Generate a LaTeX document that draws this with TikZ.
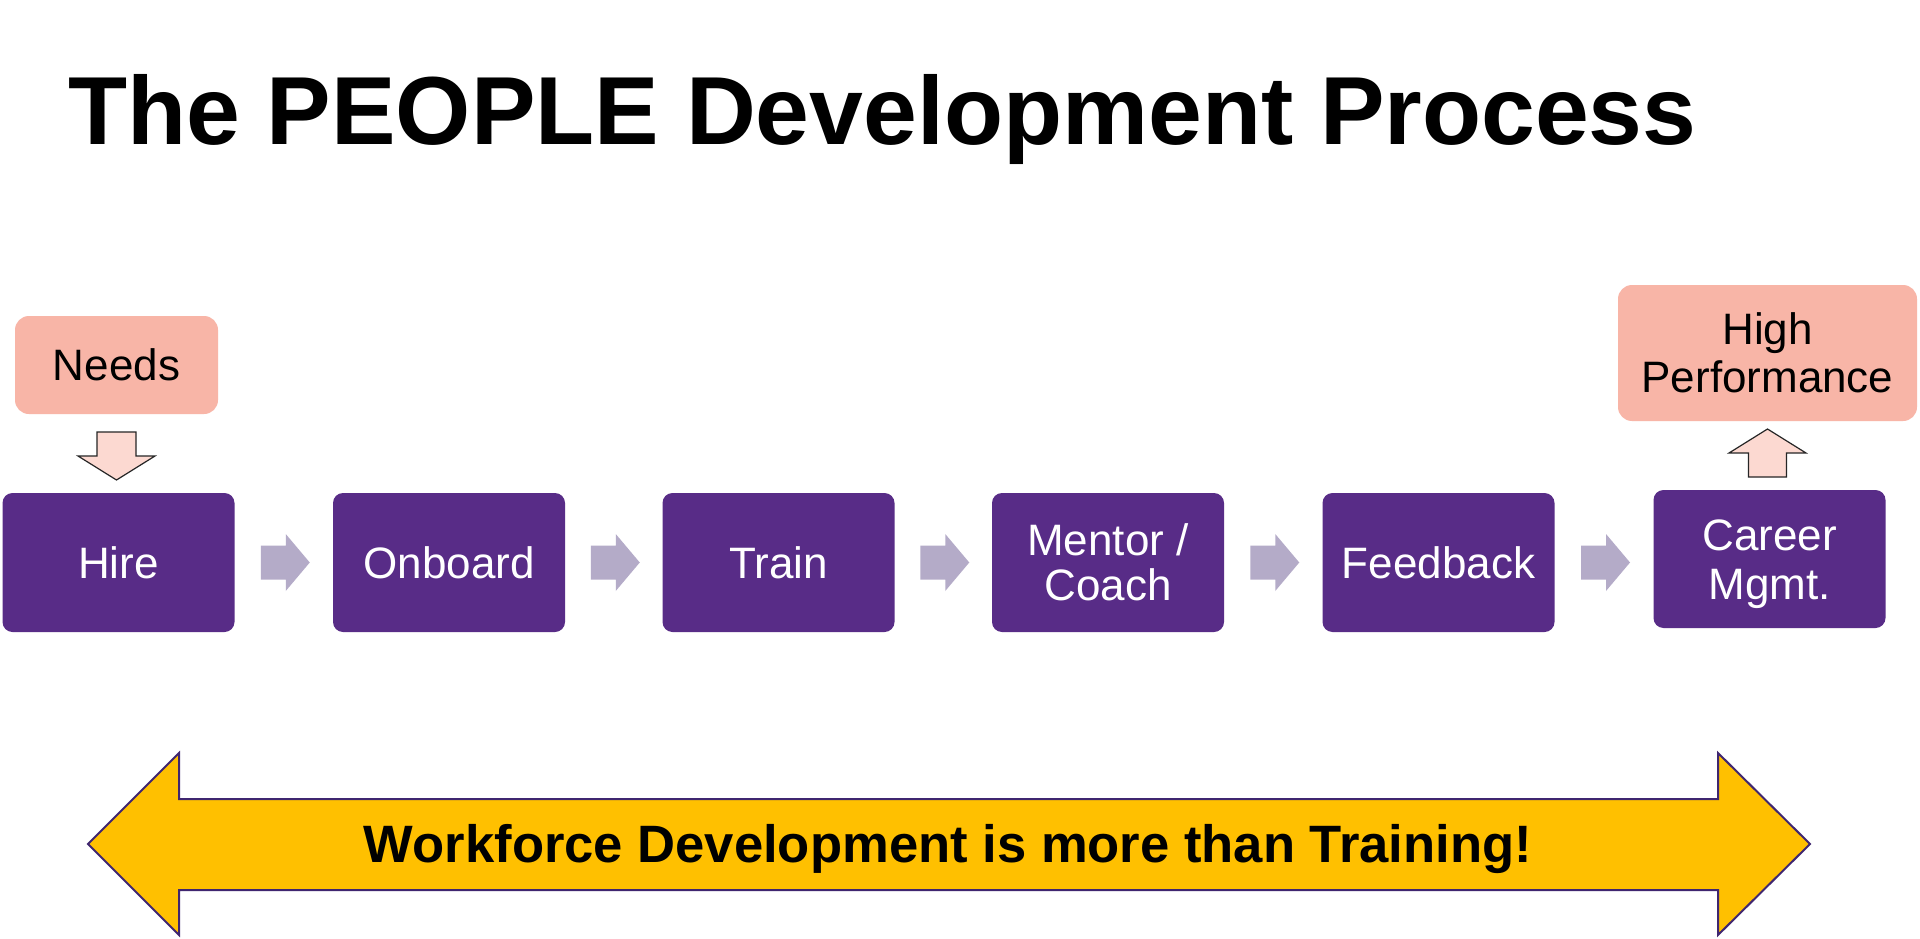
\documentclass[tikz,border=0pt]{standalone}
\usepackage{fontspec}
\setmainfont{Liberation Sans}
\usetikzlibrary{calc}
\definecolor{boxpurple}{HTML}{582C87}
\definecolor{needfill}{HTML}{F8B5A7}
\definecolor{smallarrow}{HTML}{FCD9D1}
\definecolor{chevcol}{HTML}{B4ABC8}
\definecolor{bigfill}{HTML}{FFC000}
\definecolor{bigline}{HTML}{3F2670}
\tikzset{
  stepbox/.style={rectangle, rounded corners=10pt, fill=boxpurple, text=white,
    minimum width=232pt, minimum height=139pt, inner sep=0pt, align=center,
    font=\fontsize{44pt}{45pt}\selectfont},
  pinkbox/.style={rectangle, rounded corners=14pt, fill=needfill, text=black,
    inner sep=0pt, align=center, font=\fontsize{44pt}{48pt}\selectfont},
  chev/.style={fill=chevcol},
  blockarrow/.style={fill=smallarrow, draw=black!85, line width=1.2pt, line join=miter},
}
\begin{document}
\begin{tikzpicture}[x=1pt,y=-1pt]
\useasboundingbox[fill=white] (0,0) rectangle (1920,939);
% title
\node[anchor=base west, inner sep=0pt, font=\fontsize{96.7pt}{100pt}\selectfont\bfseries] (title) at (68,144.5) {The PEOPLE Development Process};
% process boxes
\node[stepbox] (hire) at (118.5,562.5) {Hire};
\node[stepbox] (onboard) at (449,562.5) {Onboard};
\node[stepbox] (train) at (778.5,562.5) {Train};
\node[stepbox] (mentor) at (1108,562.5) {Mentor /\\Coach};
\node[stepbox] (feedback) at (1438.5,562.5) {Feedback};
\node[stepbox, minimum height=138pt] (career) at (1769.5,559) {};
\node[align=center, text=white, inner sep=0pt, font=\fontsize{44pt}{49pt}\selectfont] (careertxt) at ($(career.center)+(0,5)$) {Career\\Mgmt.};
% pink boxes
\node[pinkbox, minimum width=203pt, minimum height=98pt] (needs) at (116.5,365) {Needs};
\node[pinkbox, minimum width=299pt, minimum height=136pt] (hp) at (1767.5,353) {High\\Performance};
% chevrons between boxes
\foreach \a/\b in {hire/onboard, onboard/train, train/mentor, mentor/feedback, feedback/career}{
  \fill[chev, shift={($(\a.east|-hire.center)!0.5!(\b.west|-hire.center)+(1.5,0)$)}]
    (-24.5,-17) -- (0.5,-17) -- (0.5,-28.5) -- (24.5,0) -- (0.5,28.5) -- (0.5,17) -- (-24.5,17) -- cycle;
}
% down arrow Needs -> Hire
\coordinate (dn) at ($(needs.south)!0.5!(needs.south|-hire.north)+(0,2.5)$);
\draw[blockarrow, shift={(dn)}]
  (-19.5,-24) -- (19.5,-24) -- (19.5,0) -- (38.5,0) -- (0,24) -- (-38.5,0) -- (-19.5,0) -- cycle;
% up arrow Career -> High Performance
\coordinate (up) at ($(hp.south)!0.5!(hp.south|-career.north)+(0,-2.5)$);
\draw[blockarrow, shift={(up)}]
  (-19,24) -- (19,24) -- (19,0) -- (38.5,0) -- (0,-24) -- (-38.5,0) -- (-19,0) -- cycle;
% big double arrow
\draw[fill=bigfill, draw=bigline, line width=2pt, line join=miter]
  (88,844) -- (179,753) -- (179,799) -- (1718,799) -- (1718,753) -- (1810,844)
  -- (1718,935) -- (1718,890) -- (179,890) -- (179,935) -- cycle;
\node[font=\fontsize{52.6pt}{56pt}\selectfont\bfseries, inner sep=0pt] (wf) at (948,849) {Workforce Development is more than Training!};
\end{tikzpicture}
\end{document}
